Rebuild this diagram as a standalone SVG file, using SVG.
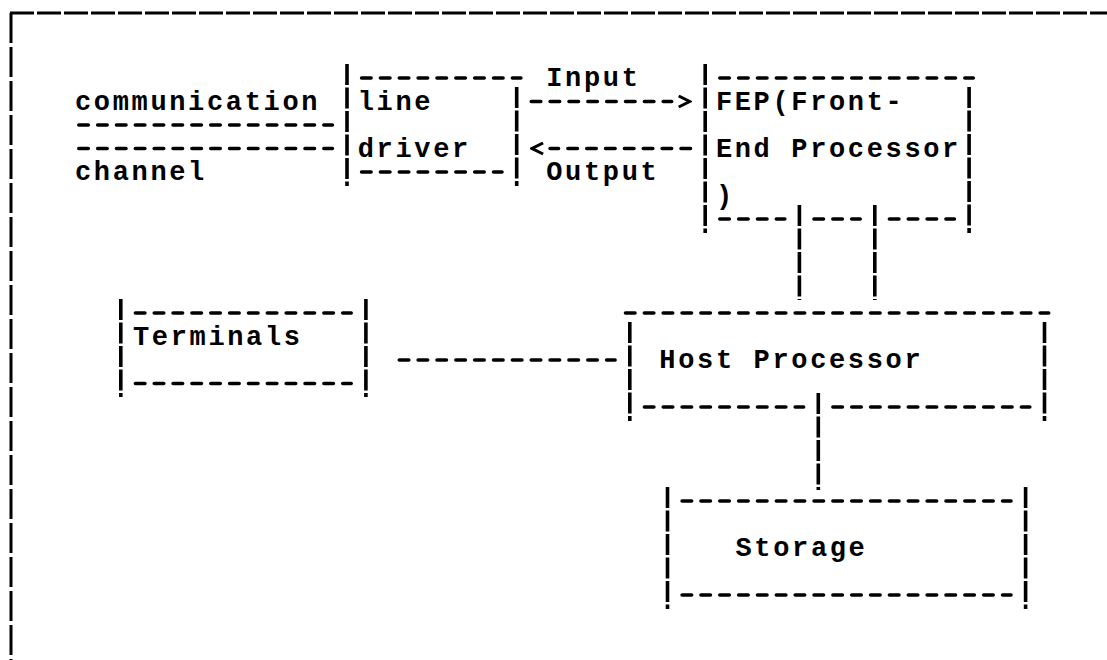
<svg xmlns="http://www.w3.org/2000/svg" width="1107" height="660" viewBox="0 0 1107 660">
<style>
  .t { font-family: "Liberation Mono", "Courier New", monospace; font-size: 27px; font-weight: bold; letter-spacing: 2.65px; fill: #000; }
  .d { stroke: #000; stroke-width: 3.6; stroke-dasharray: 9.5 9.35; stroke-linecap: round; fill: none; }
  .v { stroke: #000; stroke-width: 3.6; stroke-dasharray: 21 2.5; fill: none; }
  .f { stroke: #000; stroke-width: 3; fill: none; }
</style>
<defs>
  <marker id="chev" markerUnits="userSpaceOnUse" viewBox="0 0 20 14" markerWidth="20" markerHeight="14" refX="0" refY="7" orient="auto">
    <path d="M7,1.5 L18,7 L7,12.5" fill="none" stroke="#000" stroke-width="3"/>
  </marker>
</defs>
<rect width="1107" height="660" fill="#fff"/>

<g id="frame">
  <line class="f" x1="10" y1="13" x2="1107" y2="13" stroke-dasharray="24 3"/>
  <line class="f" x1="11" y1="13" x2="11" y2="660" stroke-dasharray="30 4"/>
</g>

<g id="comm-channel">
  <text class="t" x="75" y="109.5">communication</text>
  <line class="d" x1="78.8" y1="125" x2="332.4" y2="125"/>
  <line class="d" x1="78.8" y1="148.5" x2="332.4" y2="148.5"/>
  <text class="t" x="75" y="180">channel</text>
</g>

<g id="line-driver">
  <line class="v" x1="347" y1="64" x2="347" y2="186"/>
  <line class="v" x1="516.7" y1="87" x2="516.7" y2="186"/>
  <line class="d" x1="361.6" y1="78" x2="520.9" y2="78"/>
  <line class="d" x1="361.6" y1="172" x2="502" y2="172"/>
  <text class="t" x="357.75" y="109.5">line</text>
  <text class="t" x="357.75" y="156.5">driver</text>
</g>

<g id="fep">
  <line class="v" x1="705.2" y1="64" x2="705.2" y2="233"/>
  <line class="v" x1="969.1" y1="87" x2="969.1" y2="233"/>
  <line class="d" x1="719.8" y1="78" x2="973.3" y2="78"/>
  <line class="d" x1="719.8" y1="219" x2="784.8" y2="219"/>
  <line class="d" x1="814" y1="219" x2="860.2" y2="219"/>
  <line class="d" x1="889.4" y1="219" x2="954.4" y2="219"/>
  <text class="t" x="715.9" y="109.5">FEP(Front-</text>
  <text class="t" x="715.9" y="156.5">End Processor</text>
  <text class="t" x="715.9" y="203.5">)</text>
</g>

<g id="terminals">
  <line class="v" x1="120.8" y1="299" x2="120.8" y2="397"/>
  <line class="v" x1="365.9" y1="299" x2="365.9" y2="397"/>
  <line class="d" x1="135.4" y1="313" x2="351.2" y2="313"/>
  <line class="d" x1="135.4" y1="383.5" x2="351.2" y2="383.5"/>
  <text class="t" x="133" y="344.5">Terminals</text>
</g>

<g id="host">
  <line class="d" x1="625.5" y1="313" x2="1048.7" y2="313"/>
  <line class="v" x1="629.8" y1="322" x2="629.8" y2="421"/>
  <line class="v" x1="1044.5" y1="322" x2="1044.5" y2="421"/>
  <line class="d" x1="644.4" y1="407" x2="803.6" y2="407"/>
  <line class="d" x1="832.9" y1="407" x2="1029.8" y2="407"/>
  <text class="t" x="659.35" y="368">Host Processor</text>
</g>

<g id="storage">
  <line class="v" x1="667.5" y1="487" x2="667.5" y2="609"/>
  <line class="v" x1="1025.6" y1="487" x2="1025.6" y2="609"/>
  <line class="d" x1="682.1" y1="501" x2="1011" y2="501"/>
  <line class="d" x1="682.1" y1="595" x2="1011" y2="595"/>
  <text class="t" x="735.5" y="556">Storage</text>
</g>

<g id="connectors">
  <line class="d" x1="531.3" y1="101.5" x2="671.7" y2="101.5" marker-end="url(#chev)"/>
  <text class="t" x="546.25" y="86">Input</text>
  <line class="d" x1="690.5" y1="148.5" x2="550.1" y2="148.5" marker-end="url(#chev)"/>
  <text class="t" x="546.25" y="180">Output</text>
  <line class="v" x1="799.4" y1="205" x2="799.4" y2="300"/>
  <line class="v" x1="874.8" y1="205" x2="874.8" y2="300"/>
  <line class="d" x1="399.3" y1="360" x2="615.1" y2="360"/>
  <line class="v" x1="818.3" y1="393" x2="818.3" y2="490"/>
</g>
</svg>
